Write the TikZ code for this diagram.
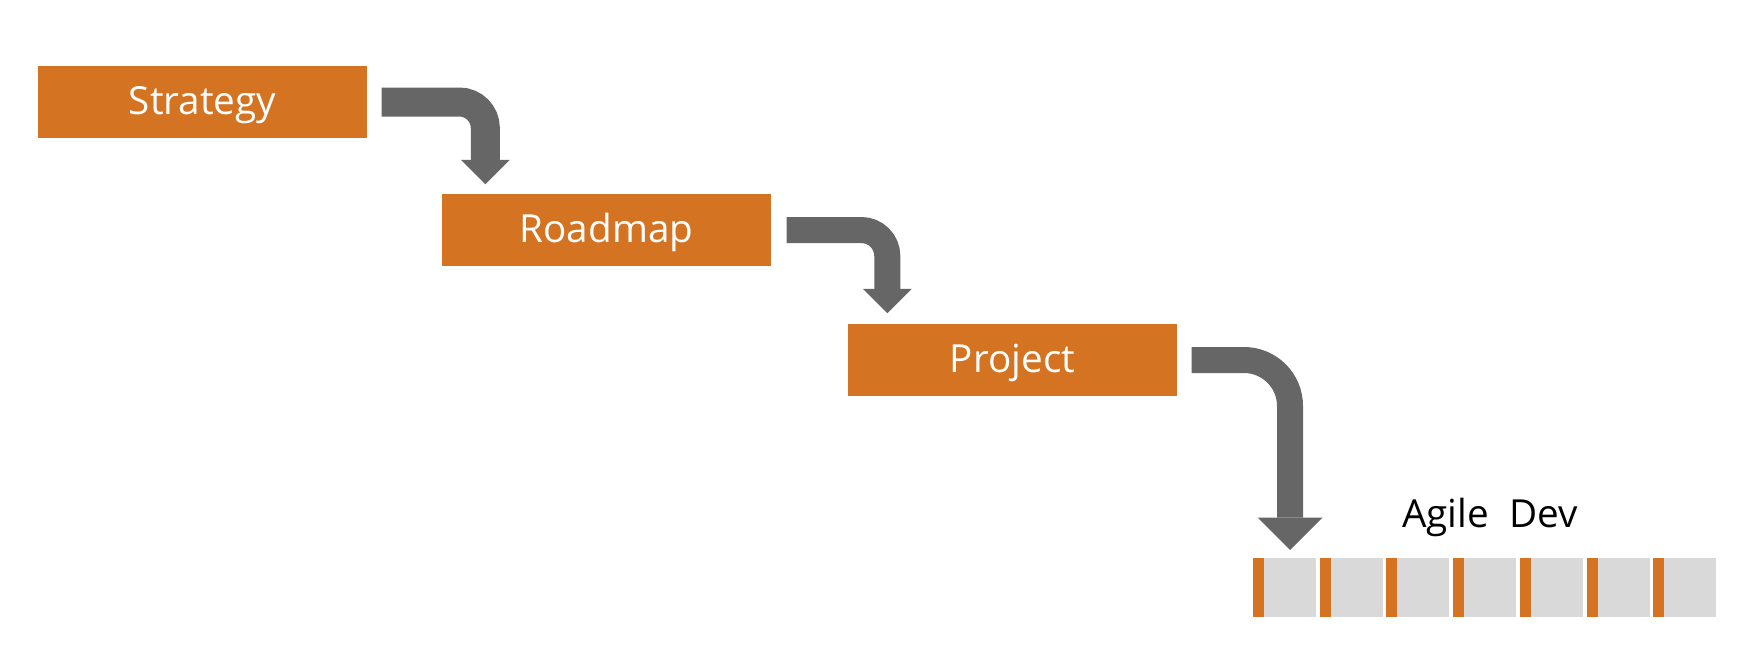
\documentclass[tikz,border=0pt]{standalone}
\usepackage{fontspec}
\setmainfont{Open Sans}
\usetikzlibrary{arrows.meta,positioning}
\definecolor{rust}{HTML}{D47322}
\definecolor{slate}{HTML}{666666}
\definecolor{sprint}{HTML}{D9D9D9}
\tikzset{
	box/.style={fill=rust,text=white,minimum width=3.29cm,minimum height=0.72cm,inner sep=0pt,text height=0.31cm,text depth=0.06cm,font=\fontsize{11}{13}\selectfont},
	bend/.style n args={3}{draw=slate,line width=0.26cm,rounded corners=#1,-{Triangle[width=#2,length=#3,line width=0pt]}},
	label/.style={font=\fontsize{11}{13}\selectfont,anchor=base}
}
\begin{document}
\begin{tikzpicture}
			\useasboundingbox (0,0) rectangle (17.42,-6.61);
			\node[box] (strategy) at (2.025,-1.02) {Strategy};
			\node[box] (roadmap) at (6.065,-2.30) {Roadmap};
			\node[box] (project) at (10.125,-3.60) {Project};
			\node[label] (agile) at (14.90,-5.27) {Agile~ Dev};
			\coordinate (sprints) at (12.53,-5.58);
			
			\draw[bend={0.26cm}{0.49cm}{0.245cm},line width=0.29cm] ([xshift=0.14cm]strategy.east) -| ([xshift=0.44cm,yshift=0.09cm]roadmap.north west);
			\draw[bend={0.26cm}{0.49cm}{0.245cm}] ([xshift=0.15cm]roadmap.east) -| ([xshift=0.40cm,yshift=0.10cm]project.north west);
			\draw[bend={0.46cm}{0.65cm}{0.325cm}] ([xshift=0.14cm]project.east) -| ([xshift=0.37cm,yshift=0.08cm]sprints);
			
			\foreach \i in {0,...,6}{
				\fill[rust] ([xshift=\i*0.667cm]sprints) rectangle ++(0.11,-0.59);
				\fill[sprint] ([xshift=\i*0.667cm+0.11cm]sprints) rectangle ++(0.52,-0.59);
			}
		\end{tikzpicture}
\end{document}
